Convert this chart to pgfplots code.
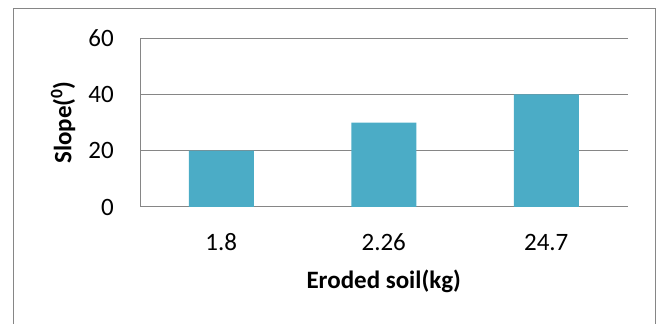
\documentclass[border=0pt]{standalone}
\usepackage{fontspec}
\setmainfont{Carlito}
\usepackage{pgfplots}
\pgfplotsset{compat=1.18}

\definecolor{barblue}{RGB}{75,172,198}
\definecolor{gridgray}{RGB}{134,134,134}
\definecolor{framegray}{RGB}{134,134,134}

\begin{document}
\begin{tikzpicture}
  % page area and chart frame (frame runs past the lower edge)
  \useasboundingbox (0bp,0bp) rectangle (662bp,324bp);
  \draw[framegray, line width=1bp] (13.5bp,-10bp) -- (13.5bp,315bp) -- (655.5bp,315bp) -- (655.5bp,-10bp);

  \begin{axis}[
    at={(140bp,117bp)}, anchor=south west,
    scale only axis,
    width=487.5bp, height=169bp,
    font=\fontsize{25bp}{30bp}\selectfont,
    /pgf/number format/assume math mode=true,
    xmin=-0.5, xmax=2.5,
    ymin=0, ymax=60,
    xtick=data,
    xticklabels={1.8,2.26,24.7},
    ytick={0,20,40,60},
    axis x line*=bottom,
    axis y line*=left,
    axis line style={gridgray, line width=1bp, -},
    major tick length=0pt,
    ymajorgrids,
    grid style={gridgray, line width=1bp},
    xticklabel style={anchor=base, inner sep=0pt, yshift=-43bp},
    yticklabel style={anchor=east, inner sep=0pt, xshift=-26bp},
    xlabel={\textbf{Eroded soil(kg)}},
    ylabel={\textbf{Slope(\textsuperscript{0})}},
    every axis x label/.style={at={(axis description cs:0.5,0)}, anchor=base, inner sep=0pt, yshift=-81.7bp},
    every axis y label/.style={at={(axis description cs:0,0.5)}, xshift=-77bp, rotate=90, anchor=center, inner sep=0pt},
  ]
    \addplot[ybar, bar width=0.4, fill=barblue, draw=none]
      coordinates {(0,20) (1,30) (2,40)};
  \end{axis}
\end{tikzpicture}
\end{document}
